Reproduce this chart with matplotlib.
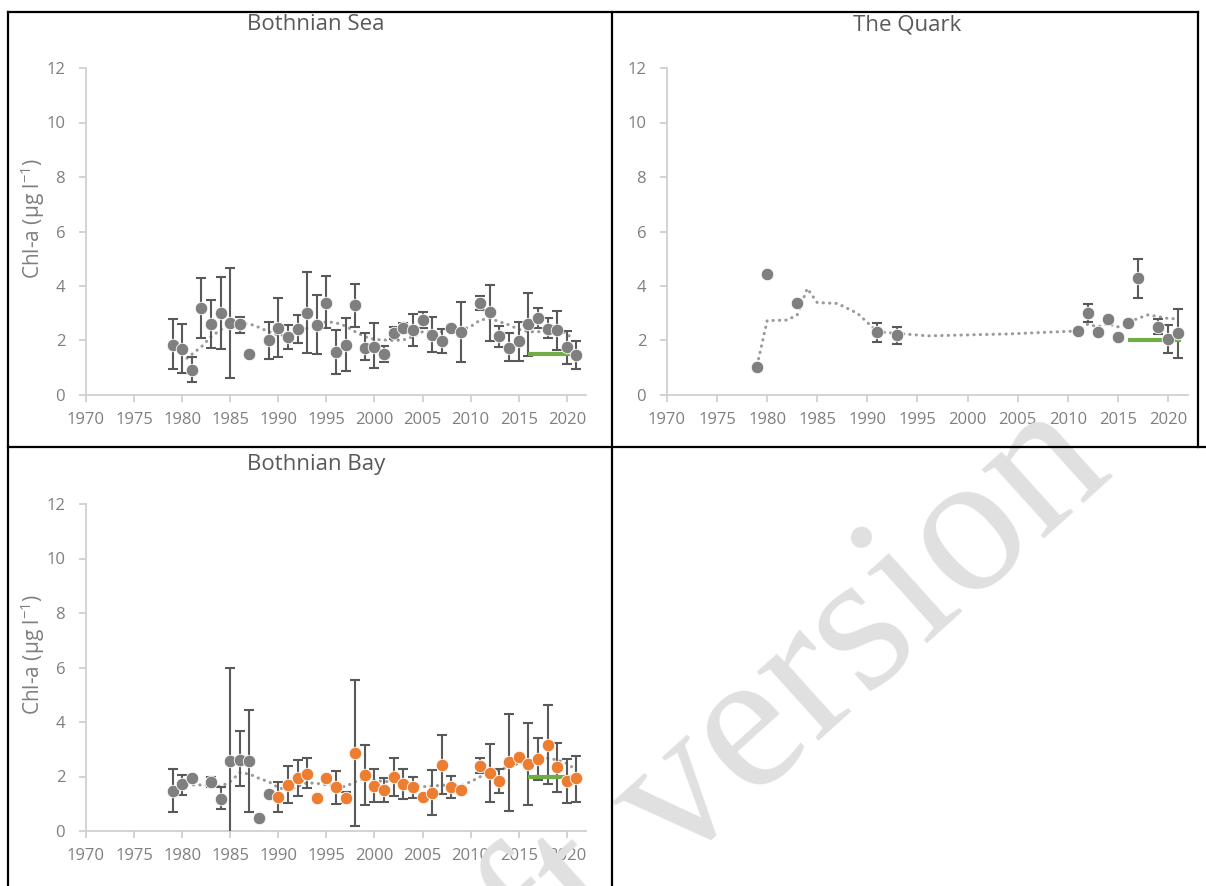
import numpy as np
import matplotlib
matplotlib.use("Agg")
import matplotlib.pyplot as plt
from matplotlib.lines import Line2D

plt.rcParams["font.family"] = ["Open Sans", "DejaVu Sans"]
plt.rcParams["mathtext.fontset"] = "custom"
plt.rcParams["mathtext.rm"] = "Open Sans"
plt.rcParams["mathtext.it"] = "Open Sans"

nan = np.nan

# Bothnian Sea: annual mean, lower / upper end of error bar
sea_years = [1979, 1980, 1981, 1982, 1983, 1984, 1985, 1986, 1987, 1989, 1990, 1991, 1992, 1993,
             1994, 1995, 1996, 1997, 1998, 1999, 2000, 2001, 2002, 2003, 2004, 2005, 2006, 2007,
             2008, 2009, 2011, 2012, 2013, 2014, 2015, 2016, 2017, 2018, 2019, 2020, 2021]
sea_vals = [1.83, 1.69, 0.92, 3.18, 2.61, 3.00, 2.63, 2.59, 1.50, 2.02, 2.47, 2.14, 2.42, 3.02,
            2.57, 3.39, 1.59, 1.83, 3.30, 1.74, 1.77, 1.49, 2.26, 2.47, 2.39, 2.75, 2.20, 1.98,
            2.47, 2.32, 3.36, 3.03, 2.18, 1.74, 1.98, 2.61, 2.81, 2.42, 2.39, 1.75, 1.47]
sea_lo = [0.94, 0.80, 0.48, 2.10, 1.71, 1.68, 0.64, 2.29, nan, 1.31, 1.41, 1.69, 1.92, 1.55,
          1.49, 2.45, 0.76, 0.88, 2.51, 1.28, 0.98, 1.22, 2.04, 2.29, 1.80, 2.45, 1.59, 1.53,
          2.36, 1.22, 3.12, 1.98, 1.77, 1.26, 1.26, 1.43, 2.45, 2.08, 1.65, 1.13, 0.95]
sea_hi = [2.78, 2.61, 1.38, 4.28, 3.49, 4.32, 4.66, 2.87, nan, 2.69, 3.55, 2.57, 2.94, 4.53,
          3.67, 4.37, 2.39, 2.81, 4.07, 2.29, 2.63, 1.81, 2.48, 2.63, 2.97, 3.06, 2.87, 2.41,
          2.57, 3.42, 3.63, 4.04, 2.53, 2.26, 2.69, 3.75, 3.20, 2.81, 3.09, 2.35, 1.98]
sea_trend_x = [1980.5, 1982, 1983, 1984, 1985, 1986, 1987, 1988, 1989, 1990, 1991, 1992, 1993,
               1994, 1995, 1996, 1997, 1998, 1999, 2000, 2001, 2002, 2003, 2004, 2005, 2006,
               2007, 2008, 2009, 2010, 2011, 2012, 2013, 2014, 2015, 2016, 2017, 2018, 2019,
               2020, 2020.5]
sea_trend_y = [1.35, 1.77, 2.14, 2.39, 2.57, 2.63, 2.61, 2.48, 2.32, 2.20, 2.20, 2.32, 2.45,
               2.57, 2.69, 2.65, 2.53, 2.32, 2.14, 2.04, 2.02, 2.00, 2.02, 2.14, 2.32, 2.34,
               2.32, 2.39, 2.39, 2.51, 2.75, 2.81, 2.69, 2.57, 2.41, 2.32, 2.32, 2.36, 2.39,
               2.26, 2.08]
sea_target_x = [2016, 2020.5]
sea_target_y = [1.5, 1.5]

# The Quark
quark_years = [1979, 1980, 1983, 1991, 1993, 2011, 2012, 2013, 2014, 2015, 2016, 2017, 2019, 2020, 2021]
quark_vals = [1.04, 4.44, 3.39, 2.32, 2.20, 2.36, 3.00, 2.30, 2.78, 2.12, 2.63, 4.28, 2.51, 2.04, 2.26]
quark_lo = [nan, nan, nan, 1.96, 1.87, nan, 2.67, nan, nan, nan, nan, 3.55, 2.23, 1.53, 1.35]
quark_hi = [nan, nan, nan, 2.65, 2.51, nan, 3.33, nan, nan, nan, nan, 4.98, 2.78, 2.57, 3.16]
quark_trend_x = [1979, 1980, 1982, 1983, 1984, 1985, 1987, 1989, 1991, 1993, 1996, 2004, 2011,
                 2012, 2013, 2014, 2015, 2016, 2017, 2018, 2019, 2020, 2021]
quark_trend_y = [1.10, 2.73, 2.75, 2.94, 3.91, 3.39, 3.36, 3.00, 2.32, 2.26, 2.17, 2.24, 2.35,
                 2.60, 2.50, 2.62, 2.50, 2.66, 2.81, 2.94, 2.88, 2.81, 2.79]
quark_target_x = [2016, 2021.3]
quark_target_y = [2.0, 2.0]

# Bothnian Bay, older series (grey) and newer series (orange)
bay_old_years = [1979, 1980, 1981, 1983, 1984, 1985, 1986, 1987, 1988, 1989]
bay_old_vals = [1.48, 1.71, 1.93, 1.79, 1.17, 2.57, 2.61, 2.57, 0.49, 1.36]
bay_old_lo = [0.68, 1.32, nan, 1.63, 0.80, -0.5, 1.65, 0.71, nan, nan]
bay_old_hi = [2.28, 2.06, nan, 1.99, 1.60, 5.97, 3.67, 4.44, nan, nan]
bay_new_years = [1990, 1991, 1992, 1993, 1994, 1995, 1996, 1997, 1998, 1999, 2000, 2001, 2002,
                 2003, 2004, 2005, 2006, 2007, 2008, 2009, 2011, 2012, 2013, 2014, 2015, 2016,
                 2017, 2018, 2019, 2020, 2021]
bay_new_vals = [1.26, 1.69, 1.93, 2.09, 1.22, 1.93, 1.60, 1.22, 2.85, 2.06, 1.65, 1.50, 1.97,
                1.71, 1.60, 1.24, 1.41, 2.42, 1.63, 1.50, 2.40, 2.14, 1.83, 2.52, 2.70, 2.46,
                2.64, 3.16, 2.34, 1.83, 1.93]
bay_new_lo = [0.71, 1.02, 1.28, 1.57, nan, nan, 0.98, 1.02, 0.20, 0.95, 1.05, 1.08, 1.28,
              1.16, 1.22, nan, 0.59, 1.35, 1.20, nan, 2.14, 1.08, 1.41, 0.75, nan, 0.95,
              1.87, 1.71, 1.44, 1.02, 1.08]
bay_new_hi = [1.81, 2.39, 2.61, 2.67, nan, nan, 2.20, 1.44, 5.54, 3.16, 2.28, 1.93, 2.67,
              2.28, 1.99, nan, 2.24, 3.52, 2.02, nan, 2.67, 3.19, 2.26, 4.29, nan, 3.95,
              3.42, 4.62, 3.24, 2.64, 2.76]
bay_trend_x = [1980.5, 1981.5, 1983, 1984, 1985, 1986, 1987, 1988, 1989, 1990, 1991, 1992, 1993,
               1994, 1995, 1996, 1997, 1998, 1999, 2000, 2001, 2002, 2003, 2004, 2005, 2006,
               2007, 2008, 2009, 2010, 2011, 2012, 2013, 2014, 2015, 2016, 2017, 2018, 2019,
               2020, 2020.5]
bay_trend_y = [1.69, 1.69, 1.69, 1.63, 1.81, 2.14, 2.09, 1.93, 1.81, 1.59, 1.50, 1.63, 1.77,
               1.75, 1.69, 1.63, 1.63, 1.81, 1.93, 1.87, 1.81, 1.83, 1.75, 1.69, 1.63, 1.63,
               1.69, 1.65, 1.65, 1.81, 1.99, 2.12, 2.24, 2.36, 2.48, 2.48, 2.61, 2.67, 2.61,
               2.48, 2.36]
bay_target_x = [2016, 2020.6]
bay_target_y = [2.0, 2.0]

GREY = "#7f7f7f"
ORANGE = "#ed7d31"
GREEN = "#70ad47"
ERR = "#595959"
AXC = "#d0d0d0"
TXT = "#7f7f7f"

W, H = 1206, 886
fig = plt.figure(figsize=(W / 100, H / 100), dpi=100)


def rect(x0, x1, ytop, ybot):
    return [x0 / W, 1 - ybot / H, (x1 - x0) / W, (ybot - ytop) / H]


def style(ax):
    ax.set_xlim(1970, 2022)
    ax.set_ylim(0, 12)
    ax.set_xticks(range(1970, 2021, 5))
    ax.set_yticks(range(0, 13, 2))
    for s in ["top", "right"]:
        ax.spines[s].set_visible(False)
    for s in ["left", "bottom"]:
        ax.spines[s].set_color(AXC)
        ax.spines[s].set_linewidth(1.3)
    ax.tick_params(axis="both", colors=AXC, labelcolor=TXT, width=1.3, length=5, labelsize=12)
    ax.tick_params(axis="y", pad=10)
    ax.tick_params(axis="x", pad=7)
    ax.set_facecolor("none")


def draw(ax, years, vals, lo, hi, color):
    v = np.array(vals)
    err = [v - np.array(lo), np.array(hi) - v]
    ax.errorbar(years, vals, yerr=err, fmt="none", ecolor=ERR, elinewidth=1.5,
                capsize=3.6, capthick=1.5, zorder=3)
    ax.plot(years, vals, "o", color=color, markersize=9, markeredgecolor="white",
            markeredgewidth=0.6, zorder=5, clip_on=False)


def trend(ax, x, y):
    ax.plot(x, y, color="#9a9a9a", lw=2.2, ls=(0, (0.1, 2.0)), dash_capstyle="round", zorder=2)


def target(ax, x, y):
    ax.plot(x, y, color=GREEN, lw=3, solid_capstyle="butt", zorder=4)


ax1 = fig.add_axes(rect(86, 586, 68, 395))
ax2 = fig.add_axes(rect(667, 1188, 68, 395))
ax3 = fig.add_axes(rect(86, 586, 504, 831))
for ax in (ax1, ax2, ax3):
    style(ax)

trend(ax1, sea_trend_x, sea_trend_y)
target(ax1, sea_target_x, sea_target_y)
draw(ax1, sea_years, sea_vals, sea_lo, sea_hi, GREY)

trend(ax2, quark_trend_x, quark_trend_y)
target(ax2, quark_target_x, quark_target_y)
draw(ax2, quark_years, quark_vals, quark_lo, quark_hi, GREY)

trend(ax3, bay_trend_x, bay_trend_y)
target(ax3, bay_target_x, bay_target_y)
draw(ax3, bay_old_years, bay_old_vals, bay_old_lo, bay_old_hi, GREY)
draw(ax3, bay_new_years, bay_new_vals, bay_new_lo, bay_new_hi, ORANGE)

# titles and y labels (centred on the whole chart area, as in the source)
fig.text(316 / W, 1 - 25 / H, "Bothnian Sea", ha="center", va="center", fontsize=16, color="#595959")
fig.text(907 / W, 1 - 25 / H, "The Quark", ha="center", va="center", fontsize=16, color="#595959")
fig.text(316 / W, 1 - 465 / H, "Bothnian Bay", ha="center", va="center", fontsize=16, color="#595959")
ylab = "Chl-a (µg l$^{-1}$)"
fig.text(33 / W, 1 - 219 / H, ylab, rotation=90, ha="center", va="center", fontsize=15, color=TXT)
fig.text(33 / W, 1 - 655 / H, ylab, rotation=90, ha="center", va="center", fontsize=15, color=TXT)

# watermark
fig.text(0.2666, -0.341, "Draft version", rotation=42, rotation_mode="anchor", ha="left",
         va="baseline", fontsize=145, family="Liberation Serif", color="#e0e0e0", zorder=0)

# table borders
border = dict(color="black", lw=1.6, transform=fig.transFigure)
fig.add_artist(Line2D([8 / W, 1198 / W], [1 - 12 / H, 1 - 12 / H], **border))
fig.add_artist(Line2D([8 / W, 8 / W], [1 - 12 / H, 0], **border))
fig.add_artist(Line2D([612 / W, 612 / W], [1 - 12 / H, 0], **border))
fig.add_artist(Line2D([1198 / W, 1198 / W], [1 - 12 / H, 1 - 447 / H], **border))
fig.add_artist(Line2D([8 / W, 1], [1 - 447 / H, 1 - 447 / H], **border))

fig.savefig("out.png", dpi=100)
